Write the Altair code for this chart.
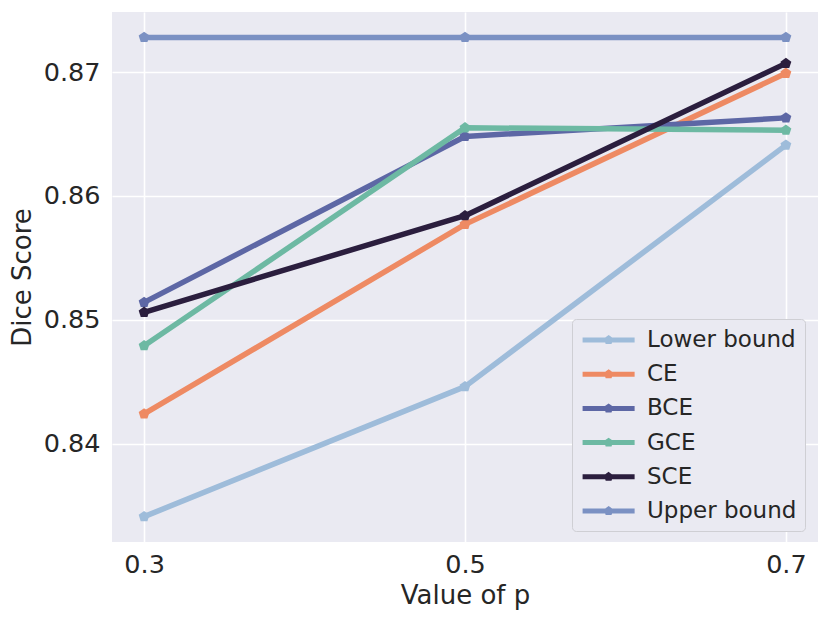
import altair as alt
import pandas as pd

p_values = [0.3, 0.5, 0.7]
series = ["Lower bound", "CE", "BCE", "GCE", "SCE", "Upper bound"]
lower_bound = [0.8341, 0.8446, 0.8641]
ce = [0.8424, 0.8577, 0.8699]
bce = [0.8514, 0.8648, 0.8663]
gce = [0.8479, 0.8655, 0.8653]
sce = [0.8506, 0.8584, 0.8707]
upper_bound = [0.8728, 0.8728, 0.8728]
colors = ["#9ebcda", "#ee8a63", "#5d67a5", "#6db9a3", "#2b1e3e", "#7b91c3"]
y_ticks = [0.84, 0.85, 0.86, 0.87]

values = [lower_bound, ce, bce, gce, sce, upper_bound]
rows = []
for i, (name, vals) in enumerate(zip(series, values)):
    for p, v in zip(p_values, vals):
        rows.append({"p": p, "score": v, "method": name, "order": i})
df = pd.DataFrame(rows)

pentagon = "M0,-1L0.951,-0.309L0.588,0.809L-0.588,0.809L-0.951,-0.309Z"
# legend symbol: line with small pentagon in the middle
legend_sym = ("M-1,0H4"
              "M1.5,-0.18L1.671,-0.056L1.606,0.146L1.394,0.146L1.329,-0.056Z")

FONT = "DejaVu Sans"
TXT = "#262626"

color = alt.Color(
    "method:N",
    scale=alt.Scale(domain=series, range=colors),
    legend=alt.Legend(
        title=None,
        orient="none",
        legendX=460,
        legendY=307,
        symbolType=legend_sym,
        symbolSize=433,
        symbolStrokeWidth=5,
        labelOffset=41,
        labelFont=FONT,
        labelFontSize=23,
        labelColor=TXT,
        rowPadding=9.2,
        padding=8,
        fillColor="#eaeaf2",
        strokeColor="#cfcfd4",
        cornerRadius=4,
        labelLimit=300,
    ),
)

chart = alt.Chart(df).mark_line(
    strokeWidth=5.5,
    strokeJoin="round",
    point=alt.OverlayMarkDef(filled=True, shape=pentagon, size=130, opacity=1),
).encode(
    x=alt.X(
        "p:Q",
        scale=alt.Scale(domain=[0.28, 0.72], nice=False, zero=False),
        axis=alt.Axis(values=p_values, format=".1f", title="Value of p",
                      labelPadding=10, titlePadding=5),
    ),
    y=alt.Y(
        "score:Q",
        scale=alt.Scale(domain=[0.83205, 0.87485], nice=False, zero=False),
        axis=alt.Axis(values=y_ticks, format=".2f", title="Dice Score",
                      labelPadding=12, titlePadding=8),
    ),
    color=color,
    order="order:Q",
).properties(
    width=706,
    height=530,
    autosize=alt.AutoSizeParams(type="none"),
    padding={"left": 104, "top": 4, "right": 4, "bottom": 71},
).configure_view(
    fill="#eaeaf2", stroke=None
).configure_axis(
    domain=False,
    ticks=False,
    tickSize=0,
    grid=True,
    gridColor="white",
    gridWidth=1.6,
    labelFont=FONT,
    labelFontSize=25.5,
    labelColor=TXT,
    titleFont=FONT,
    titleFontSize=26,
    titleFontWeight="normal",
    titleColor=TXT,
)

chart.save("out.html", embed_options={"renderer": "svg", "actions": False})
